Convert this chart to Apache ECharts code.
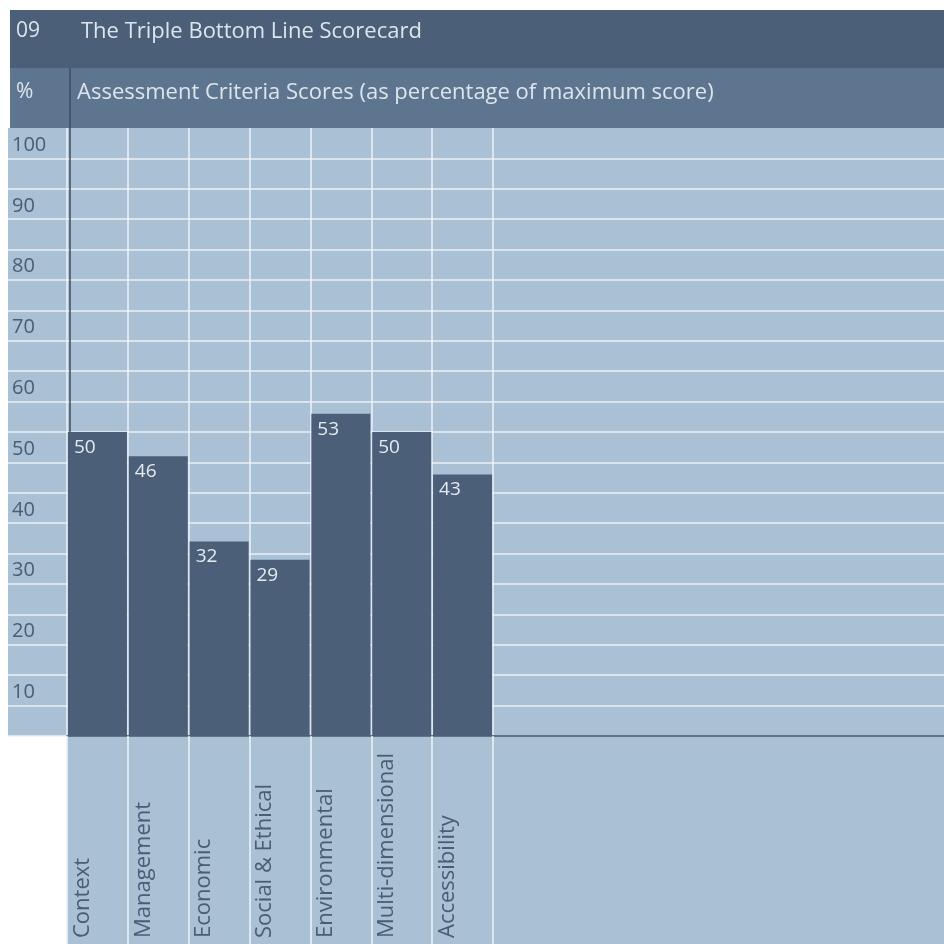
<!DOCTYPE html>
<html>
<head>
<meta charset="utf-8">
<title>The Triple Bottom Line Scorecard</title>
<script src="https://cdn.jsdelivr.net/npm/echarts@6/dist/echarts.min.js"></script>
<style>
  html, body { margin: 0; padding: 0; background: #ffffff; }
  #chart { width: 944px; height: 944px; }
</style>
</head>
<body>
<div id="chart"></div>
<script>
// Assessment criteria and their scores (% of maximum score)
const categories = ['Context', 'Management', 'Economic', 'Social & Ethical', 'Environmental', 'Multi-dimensional', 'Accessibility'];
const scores = [50, 46, 32, 29, 53, 50, 43];
// Labelled ticks on the percentage scale (gridlines run every 5)
const yTickLabels = [10, 20, 30, 40, 50, 60, 70, 80, 90, 100];

const FONT = '"Open Sans", "Noto Sans", sans-serif';
const DARK = '#4b5f78';
const MID = '#5e7590';
const LIGHT = '#aac0d5';
const INK = '#4a5d71';
const PALE_TEXT = '#dce5ee';

const PLOT_TOP = 128;
const PLOT_BOTTOM = 208;   // distance from the page bottom to the zero line
const BAR_LEFT = 67;
const BAR_RIGHT = 451;

const chart = echarts.init(document.getElementById('chart'), null, { renderer: 'canvas' });

chart.setOption({
  animation: false,
  backgroundColor: '#ffffff',
  textStyle: { fontFamily: FONT },
  title: [
    { text: '09', left: 11, top: 16, textStyle: { color: PALE_TEXT, fontSize: 21, fontWeight: 'normal', fontFamily: FONT } },
    { text: 'The Triple Bottom Line Scorecard', left: 76, top: 16, textStyle: { color: PALE_TEXT, fontSize: 22, fontWeight: 'normal', fontFamily: FONT } },
    { text: '%', left: 11, top: 77, textStyle: { color: PALE_TEXT, fontSize: 21, fontWeight: 'normal', fontFamily: FONT } },
    { text: 'Assessment Criteria Scores (as percentage of maximum score)', left: 72, top: 77, textStyle: { color: PALE_TEXT, fontSize: 22, fontWeight: 'normal', fontFamily: FONT } }
  ],
  graphic: [
    // heading bands
    { type: 'rect', z: -1, silent: true, shape: { x: 10, y: 10, width: 934, height: 58 }, style: { fill: DARK } },
    { type: 'rect', z: -1, silent: true, shape: { x: 10, y: 68, width: 934, height: 60 }, style: { fill: MID } },
    // strip behind the category names
    { type: 'rect', z: -1, silent: true, shape: { x: BAR_LEFT, y: 944 - PLOT_BOTTOM, width: 944 - BAR_LEFT, height: PLOT_BOTTOM }, style: { fill: LIGHT } },
    // value axis rule carried up through the subtitle band
    { type: 'line', z: 1, silent: true, shape: { x1: 70, y1: 68, x2: 70, y2: PLOT_TOP }, style: { stroke: '#3c4e62', lineWidth: 1.5 } }
  ],
  grid: [
    // full-width panel: label column and horizontal rules
    { left: 8, right: 0, top: PLOT_TOP, bottom: PLOT_BOTTOM, show: true, backgroundColor: LIGHT, borderWidth: 0 },
    // zero line across the panel
    { left: BAR_LEFT, right: 0, top: PLOT_TOP, bottom: PLOT_BOTTOM },
    // bar area
    { left: BAR_LEFT, right: BAR_RIGHT, top: PLOT_TOP, bottom: PLOT_BOTTOM }
  ],
  xAxis: [
    { gridIndex: 0, type: 'value', min: 0, max: 1, show: false },
    {
      gridIndex: 1, type: 'value', min: 0, max: 1,
      axisLine: { show: true, lineStyle: { color: '#3c4e62', width: 1.5 } },
      axisTick: { show: false }, axisLabel: { show: false }, splitLine: { show: false }
    },
    {
      gridIndex: 2, type: 'category', data: categories, boundaryGap: true,
      axisLine: { show: false },
      axisTick: { show: true, inside: false, length: PLOT_BOTTOM, lineStyle: { color: '#eef3f8', width: 1.5 } },
      splitLine: { show: true, lineStyle: { color: '#eef3f8', width: 1.5 } },
      axisLabel: {
        rotate: 90,
        interval: 0,
        margin: 202,
        align: 'left',
        verticalAlign: 'bottom',
        padding: [0, 0, 4, 0],
        color: INK,
        fontSize: 22,
        fontFamily: FONT
      }
    }
  ],
  yAxis: [
    {
      gridIndex: 0, type: 'value', min: 0, max: 100, interval: 5,
      axisLine: { show: false }, axisTick: { show: false },
      splitLine: { show: true, showMaxLine: false, lineStyle: { color: '#e9f0f6', width: 1.5 } },
      axisLabel: {
        inside: true,
        margin: 4,
        align: 'left',
        verticalAlign: 'top',
        padding: [7, 0, 0, 0],
        color: INK,
        fontSize: 20,
        fontFamily: FONT,
        formatter: v => (yTickLabels.indexOf(v) >= 0 ? String(v) : '')
      }
    },
    { gridIndex: 1, type: 'value', min: 0, max: 100, show: false },
    {
      gridIndex: 2, type: 'value', min: 0, max: 100, interval: 5,
      offset: -3,
      axisLine: { show: true, lineStyle: { color: '#3c4e62', width: 1.5 } },
      axisTick: { show: false }, axisLabel: { show: false }, splitLine: { show: false }
    }
  ],
  series: [
    {
      type: 'bar',
      xAxisIndex: 2,
      yAxisIndex: 2,
      data: scores,
      barWidth: 59,
      itemStyle: { color: DARK },
      label: {
        show: true,
        position: 'insideTopLeft',
        distance: 6,
        color: '#e4ebf2',
        fontSize: 19,
        fontFamily: FONT
      }
    }
  ]
});
</script>
</body>
</html>
